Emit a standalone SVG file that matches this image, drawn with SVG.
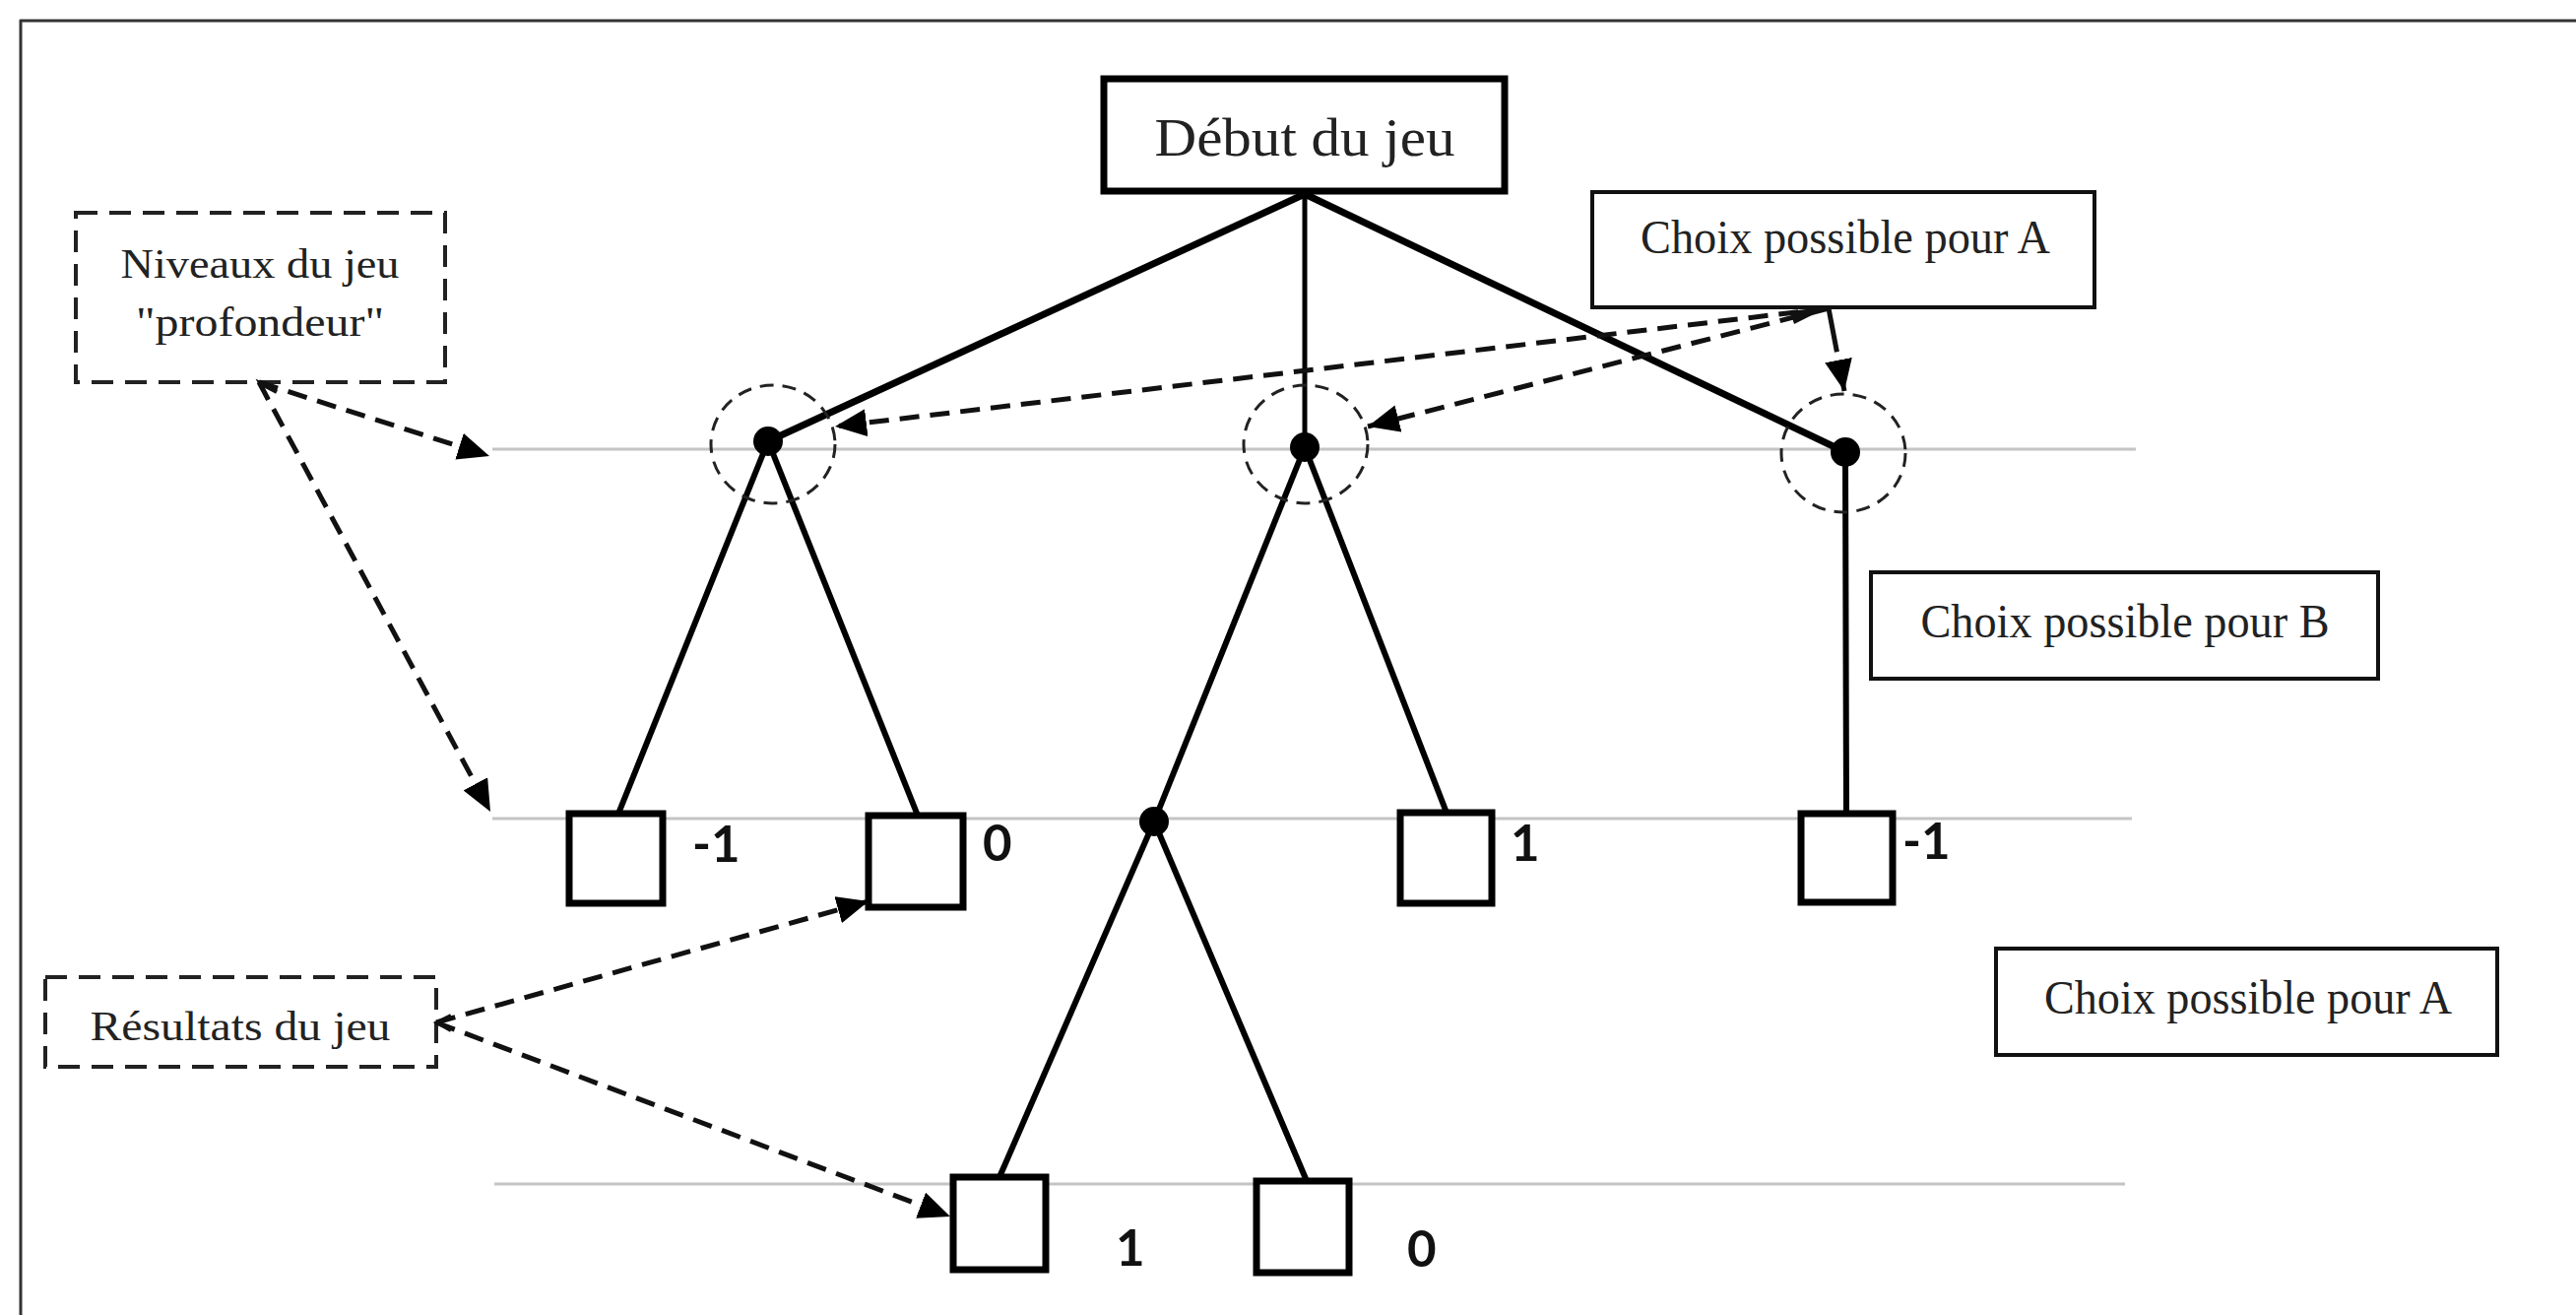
<svg xmlns="http://www.w3.org/2000/svg" width="2616" height="1335" viewBox="0 0 2616 1335">
<defs>
<style>
.frame{stroke:#333;stroke-width:3;fill:none}
.lvl{stroke:#c4c4c4;stroke-width:3}
.edge{stroke:#000;stroke-width:6;fill:none;stroke-linecap:round}
.edgeT{stroke:#000;stroke-width:7;fill:none;stroke-linecap:round}
.sq{fill:#fff;stroke:#000;stroke-width:7}
.dot{fill:#000}
.ring{fill:none;stroke:#222;stroke-width:3;stroke-dasharray:14 9}
.darr{fill:none;stroke:#111;stroke-width:5;stroke-dasharray:20 11}
.chev{fill:none;stroke:#111;stroke-width:4}
.lbl{font-family:"Liberation Serif","DejaVu Serif",serif;fill:#222;text-anchor:middle}
.val{font-family:Lato,"Liberation Sans",sans-serif;font-weight:700;font-size:51px;fill:#111}
.box{fill:#fff;stroke:#111;stroke-width:4}
.boxT{fill:#fff;stroke:#000;stroke-width:7}
.dbox{fill:#fff;stroke:#222;stroke-width:4;stroke-dasharray:22 12}
</style>
<marker id="ah" viewBox="0 0 32 28" refX="32" refY="14" markerWidth="32" markerHeight="28" markerUnits="userSpaceOnUse" orient="auto">
<path d="M0,0 L32,14 L0,28 Z" fill="#000"/>
</marker>
</defs>
<rect width="2616" height="1335" fill="#fff"/>
<g id="frame">
<line class="frame" x1="20" y1="21" x2="2616" y2="21"/>
<line class="frame" x1="21" y1="20" x2="21" y2="1335"/>
</g>
<g id="levels">
<line class="lvl" x1="500" y1="456" x2="2169" y2="456"/>
<line class="lvl" x1="500" y1="831" x2="2165" y2="831"/>
<line class="lvl" x1="502" y1="1202" x2="2158" y2="1202"/>
</g>
<g id="edges">
<line class="edgeT" x1="1325" y1="197" x2="780" y2="448"/>
<line class="edge" style="stroke-width:5" x1="1325" y1="197" x2="1325" y2="454"/>
<line class="edgeT" x1="1325" y1="197" x2="1874" y2="459"/>
<line class="edge" x1="780" y1="448" x2="628" y2="826"/>
<line class="edge" x1="780" y1="448" x2="932" y2="828"/>
<line class="edge" x1="1325" y1="454" x2="1172" y2="834"/>
<line class="edge" x1="1325" y1="454" x2="1469" y2="825"/>
<line class="edge" x1="1874" y1="459" x2="1875" y2="826"/>
<line class="edge" x1="1172" y1="834" x2="1015" y2="1195"/>
<line class="edge" x1="1172" y1="834" x2="1327" y2="1199"/>
</g>
<g id="root">
<rect class="boxT" x="1121" y="80" width="407" height="114"/>
<text class="lbl" x="1325" y="158" font-size="54" textLength="305" lengthAdjust="spacingAndGlyphs">Début du jeu</text>
</g>
<g id="nodeA1">
<circle class="dot" cx="780" cy="448" r="15"/>
<ellipse class="ring" cx="785" cy="451" rx="63" ry="60"/>
</g>
<g id="nodeA2">
<circle class="dot" cx="1325" cy="454" r="15"/>
<ellipse class="ring" cx="1326" cy="451" rx="63" ry="60"/>
</g>
<g id="nodeA3">
<circle class="dot" cx="1874" cy="459" r="15"/>
<ellipse class="ring" cx="1872" cy="460" rx="63" ry="60"/>
</g>
<g id="nodeB">
<circle class="dot" cx="1172" cy="834" r="15"/>
</g>
<g id="leaf1"><rect class="sq" x="578" y="826" width="95" height="91"/><text class="val" x="703" y="875">-1</text></g>
<g id="leaf2"><rect class="sq" x="882" y="828" width="96" height="93"/><text class="val" x="998" y="874">0</text></g>
<g id="leaf3"><rect class="sq" x="1422" y="825" width="93" height="92"/><text class="val" x="1534" y="874">1</text></g>
<g id="leaf4"><rect class="sq" x="1829" y="826" width="93" height="90"/><text class="val" x="1932" y="872">-1</text></g>
<g id="leaf5"><rect class="sq" x="968" y="1195" width="94" height="94"/><text class="val" x="1133" y="1285">1</text></g>
<g id="leaf6"><rect class="sq" x="1276" y="1199" width="94" height="93"/><text class="val" x="1429" y="1286">0</text></g>
<g id="labelChoixA1">
<rect class="box" x="1617" y="195" width="510" height="117"/>
<text class="lbl" x="1874" y="257" font-size="48" textLength="416" lengthAdjust="spacingAndGlyphs">Choix possible pour A</text>
</g>
<g id="labelChoixB">
<rect class="box" x="1900" y="581" width="515" height="108"/>
<text class="lbl" x="2158" y="647" font-size="48" textLength="415" lengthAdjust="spacingAndGlyphs">Choix possible pour B</text>
</g>
<g id="labelChoixA2">
<rect class="box" x="2027" y="963" width="509" height="108"/>
<text class="lbl" x="2283" y="1029" font-size="48" textLength="414" lengthAdjust="spacingAndGlyphs">Choix possible pour A</text>
</g>
<g id="labelNiveaux">
<rect class="dbox" x="77" y="216" width="375" height="172"/>
<text class="lbl" x="264" y="282" font-size="42" textLength="283" lengthAdjust="spacingAndGlyphs">Niveaux du jeu</text>
<text class="lbl" x="264" y="341" font-size="42" textLength="252" lengthAdjust="spacingAndGlyphs">"profondeur"</text>
</g>
<g id="labelResultats">
<rect class="dbox" x="46" y="992" width="397" height="91"/>
<text class="lbl" x="244" y="1056" font-size="42" textLength="305" lengthAdjust="spacingAndGlyphs">Résultats du jeu</text>
</g>
<g id="connectors">
<line class="darr" x1="263" y1="388" x2="497" y2="463" marker-end="url(#ah)"/>
<line class="darr" x1="263" y1="388" x2="498" y2="824" marker-end="url(#ah)"/>
<path class="chev" d="M281,398 L264,389 L272,406"/>
<line class="darr" x1="443" y1="1038" x2="882" y2="915" marker-end="url(#ah)"/>
<line class="darr" x1="443" y1="1038" x2="965" y2="1235" marker-end="url(#ah)"/>
<path class="chev" d="M458,1031 L444,1038 L458,1046"/>
<line class="darr" x1="1857" y1="313" x2="848" y2="433" marker-end="url(#ah)"/>
<line class="darr" x1="1857" y1="313" x2="1389" y2="433" marker-end="url(#ah)"/>
<line class="darr" style="stroke-dasharray:45 11" x1="1857" y1="313" x2="1873" y2="397" marker-end="url(#ah)"/>
<polygon points="1818,316 1858,311 1822,329" fill="#111"/>
</g>
</svg>
